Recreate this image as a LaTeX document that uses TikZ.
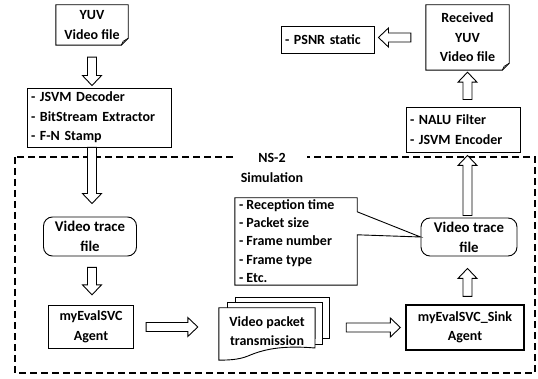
\documentclass[tikz,border=0pt]{standalone}
\usepackage{fontspec}
\setmainfont{Carlito}
\usetikzlibrary{calc}

\tikzset{
  x=1pt, y=-1pt,
  txt/.style={font=\bfseries\fontsize{14}{19.5}\selectfont},
  box/.style={draw, line width=0.9pt, inner sep=0pt, txt, align=center},
  agentbox/.style={box, line width=1.3pt},
  listbox/.style={draw, line width=0.9pt, inner ysep=0pt, inner xsep=4pt, txt, align=left},
  roundbox/.style={box, rounded corners=9pt, font=\bfseries\fontsize{14.8}{20}\selectfont},
  plain/.style={inner sep=0pt, txt, align=center},
  outline/.style={line width=0.9pt},
  hollow/.style={draw, fill=white, line width=0.9pt, line join=miter},
  frame/.style={line width=1.6pt, dash pattern=on 7pt off 4pt}
}

% hollow block arrow from #1 to #2, leaving gaps #3 and #4 at the ends
\newcommand\fatarrow[4]{%
  \coordinate (fa) at ($(#1)!#3!(#2)$);
  \coordinate (fb) at ($(#2)!#4!(#1)$);
  \coordinate (fc) at ($(fb)!10pt!(fa)$);
  \draw[hollow] ($(fa)!4.5pt!90:(fb)$) -- ($(fc)!4.5pt!90:(fb)$)
    -- ($(fc)!9.5pt!90:(fb)$) -- (fb) -- ($(fc)!9.5pt!-90:(fb)$)
    -- ($(fc)!4.5pt!-90:(fb)$) -- ($(fa)!4.5pt!-90:(fb)$) -- cycle;
}

% page outline with a turned-down lower right corner
\newcommand\docpage[1]{%
  \draw[outline, fill=white] (#1.north west) -- (#1.north east)
    -- ($(#1.south east)+(0,-7)$) -- ($(#1.south east)+(-7,0)$)
    -- (#1.south west) -- cycle;
  \draw[line width=0.6pt] ($(#1.south east)+(0,-7)$) -- ($(#1.south east)+(-5,-4)$)
    -- ($(#1.south east)+(-7,0)$);
}

\begin{document}
\begin{tikzpicture}
\useasboundingbox (0,0) rectangle (538,379);

% simulation area
\draw[frame] (15,157) rectangle (535,373);
\node[plain, fill=white, inner xsep=4pt] (ns) at (272,168) {NS-2\\Simulation};

% input side
\coordinate (yuvc) at (92,25);
\node[plain, minimum width=72, minimum height=40] (yuv) at (yuvc) {};
\docpage{yuv}
\node[plain] (yuvtext) at (yuvc) {YUV\\Video file};
\node[listbox, text width=136, minimum height=59] (proc1) at (99,117.5)
  {- JSVM Decoder\\- BitStream Extractor\\- F-N Stamp};

\node[roundbox, minimum width=93, minimum height=39] (trace1) at (90,236.5) {Video trace\\file};
\node[agentbox, minimum width=85, minimum height=43] (agent1) at (91,327) {myEvalSVC\\Agent};

% stacked packet pages
\coordinate (p3nw) at (235,297);
\coordinate (p2nw) at (227,302);
\draw[outline, fill=white] (p3nw) -- (329,297) -- (329,338) -- (322,338);
\draw[outline, fill=white] (p2nw) -- (322,302) -- (322,344) -- (315,344);
\draw[outline] (p3nw) -- (235,302);
\draw[outline] (p2nw) -- (227,308);
\node[plain, minimum width=96, minimum height=52] (pkt) at (267,334) {};
\draw[outline, fill=white] (pkt.north west) -- (pkt.north east) -- (315,348)
  .. controls (280,345) and (262,350) .. (248,356)
  .. controls (238,360) and (228,360) .. (pkt.south west) -- cycle;
\node[plain] (pkttext) at (267,331) {Video packet\\transmission};

\node[agentbox, minimum width=118, minimum height=45] (agent2) at (465,327.5) {myEvalSVC\_Sink\\Agent};
\node[roundbox, minimum width=96, minimum height=38] (trace2) at (469,237) {Video trace\\file};

% trace fields callout
\node[plain, minimum width=122, minimum height=87] (fields) at (296,241.5) {};
\draw[outline] (fields.north west) -- (fields.north east) -- ($(fields.north east)+(0,14)$)
  -- (trace2.west) -- ($(fields.north east)+(0,37)$) -- (fields.south east)
  -- (fields.south west) -- cycle;
\node[plain, align=left, anchor=north west, font=\bfseries\fontsize{14}{18.3}\selectfont]
  (fieldtext) at ($(fields.north west)+(4,1.5)$)
  {- Reception time\\- Packet size\\- Frame number\\- Frame type\\- Etc.};

% output side
\node[listbox, text width=106, minimum height=45] (nalu) at (463,129.5) {- NALU Filter\\- JSVM Encoder};
\coordinate (recvc) at (467.5,37.5);
\node[plain, minimum width=83, minimum height=65] (recv) at (recvc) {};
\docpage{recv}
\node[plain] (recvtext) at (recvc) {Received\\YUV\\Video file};
\node[listbox, text width=85, minimum height=27] (psnr) at (327.5,39.5) {- PSNR static};

% flow
\fatarrow{yuv.south}{yuv.south |- proc1.north}{12pt}{2pt}
\fatarrow{yuv.south |- proc1.south}{yuv.south |- trace1.north}{0pt}{13pt}
\fatarrow{yuv.south |- trace1.south}{yuv.south |- agent1.north}{11pt}{10pt}
\fatarrow{agent1.east}{agent1.east -| pkt.west}{12pt}{21pt}
\fatarrow{agent2.west -| pkt.east}{agent2.west}{31pt}{5pt}
\fatarrow{recv.south |- agent2.north}{recv.south |- trace2.south}{8pt}{12pt}
\fatarrow{recv.south |- trace2.north}{recv.south |- nalu.south}{2pt}{3pt}
\fatarrow{recv.south |- nalu.north}{recv.south}{7pt}{2pt}
\fatarrow{recv.west}{recv.west -| psnr.east}{15pt}{4pt}
\end{tikzpicture}
\end{document}
